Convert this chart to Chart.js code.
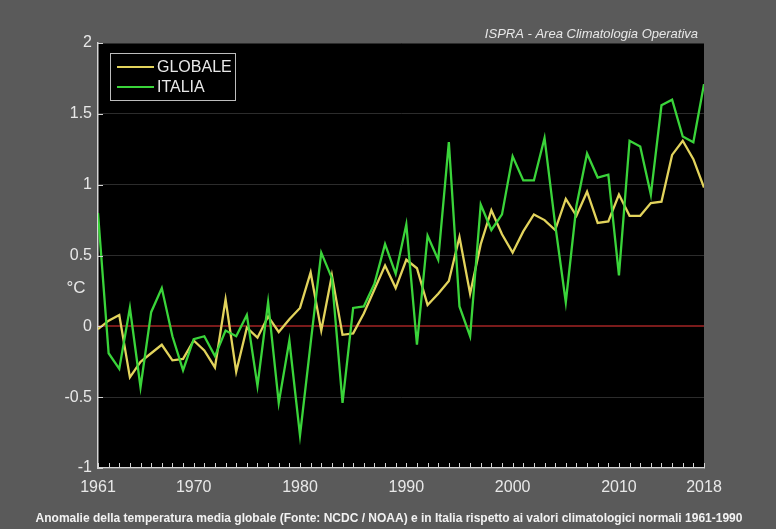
<!DOCTYPE html>
<html>
<head>
<meta charset="utf-8">
<script src="https://cdn.jsdelivr.net/npm/chart.js@4/dist/chart.umd.min.js"></script>
<style>
  html, body { margin: 0; padding: 0; background: #5a5a5a; }
  #wrap { width: 776px; height: 529px; position: relative; }
  canvas { display: block; }
</style>
</head>
<body>
<div id="wrap"><canvas id="chart" width="776" height="529"></canvas></div>
<script>
// Annual temperature anomalies (°C) relative to the 1961-1990 normal
const years = [
  1961, 1962, 1963, 1964, 1965, 1966, 1967, 1968, 1969, 1970,
  1971, 1972, 1973, 1974, 1975, 1976, 1977, 1978, 1979, 1980,
  1981, 1982, 1983, 1984, 1985, 1986, 1987, 1988, 1989, 1990,
  1991, 1992, 1993, 1994, 1995, 1996, 1997, 1998, 1999, 2000,
  2001, 2002, 2003, 2004, 2005, 2006, 2007, 2008, 2009, 2010,
  2011, 2012, 2013, 2014, 2015, 2016, 2017, 2018
];

const globale = [
  -0.02, 0.04, 0.08, -0.36, -0.25, -0.19, -0.13, -0.24, -0.23, -0.10,
  -0.17, -0.29, 0.19, -0.32, -0.01, -0.08, 0.07, -0.04, 0.05, 0.13,
  0.38, -0.03, 0.36, -0.06, -0.05, 0.09, 0.26, 0.43, 0.27, 0.47,
  0.41, 0.15, 0.23, 0.32, 0.63, 0.23, 0.58, 0.82, 0.65, 0.52,
  0.67, 0.79, 0.75, 0.68, 0.90, 0.78, 0.95, 0.73, 0.74, 0.93,
  0.78, 0.78, 0.87, 0.88, 1.21, 1.31, 1.18, 0.98
];

const italia = [
  0.80, -0.19, -0.30, 0.13, -0.43, 0.10, 0.27, -0.07, -0.31, -0.09,
  -0.07, -0.21, -0.03, -0.07, 0.08, -0.42, 0.17, -0.54, -0.10, -0.77,
  -0.12, 0.52, 0.34, -0.54, 0.13, 0.14, 0.30, 0.58, 0.37, 0.72,
  -0.13, 0.64, 0.47, 1.30, 0.14, -0.07, 0.86, 0.68, 0.79, 1.20,
  1.03, 1.03, 1.33, 0.72, 0.17, 0.85, 1.22, 1.05, 1.07, 0.36,
  1.31, 1.27, 0.93, 1.56, 1.60, 1.34, 1.30, 1.71
];

const seriesNames = ['GLOBALE', 'ITALIA'];
const xTickLabels = [1961, 1970, 1980, 1990, 2000, 2010, 2018];
const yTickValues = [-1, -0.5, 0, 0.5, 1, 1.5, 2];
const unitLabel = '°C';
const titleText = 'ISPRA - Area Climatologia Operativa';
const captionText = 'Anomalie della temperatura media globale (Fonte: NCDC / NOAA) e in Italia rispetto ai valori climatologici normali 1961-1990';

const FONT = '"Liberation Sans", Arial, Helvetica, sans-serif';
const TEXT = '#e8e8e8';
const AXIS = '#d4d4d4';

const toPoints = vals => years.map((yr, i) => ({ x: yr, y: vals[i] }));

// Grey page, black plotting area
const backdrop = {
  id: 'backdrop',
  beforeDraw(chart) {
    const { ctx, chartArea: a } = chart;
    ctx.save();
    ctx.fillStyle = '#5a5a5a';
    ctx.fillRect(0, 0, chart.width, chart.height);
    ctx.fillStyle = '#000000';
    ctx.fillRect(a.left, a.top, a.right - a.left, a.bottom - a.top);
    ctx.restore();
  }
};

// Inward tick marks, legend box, unit label, credit line and caption
const decorations = {
  id: 'decorations',
  afterDraw(chart) {
    const { ctx, chartArea: a, scales } = chart;
    const xs = scales.x, ys = scales.y;
    ctx.save();

    ctx.strokeStyle = AXIS;
    ctx.lineWidth = 1;
    years.forEach(yr => {
      const px = Math.round(xs.getPixelForValue(yr)) + 0.5;
      ctx.beginPath();
      ctx.moveTo(px, a.bottom);
      ctx.lineTo(px, a.bottom - 5);
      ctx.stroke();
    });
    yTickValues.forEach(v => {
      const py = Math.round(ys.getPixelForValue(v)) + 0.5;
      ctx.beginPath();
      ctx.moveTo(a.left, py);
      ctx.lineTo(a.left + 5, py);
      ctx.stroke();
    });

    // legend
    const bx = a.left + 12, by = a.top + 10, bw = 125, bh = 47;
    ctx.fillStyle = '#000000';
    ctx.fillRect(bx, by, bw, bh);
    ctx.strokeStyle = '#bdbdbd';
    ctx.lineWidth = 1;
    ctx.strokeRect(bx + 0.5, by + 0.5, bw, bh);
    ctx.font = '16px ' + FONT;
    ctx.textBaseline = 'middle';
    ctx.textAlign = 'left';
    chart.data.datasets.forEach((ds, i) => {
      const ly = by + 14 + i * 20;
      ctx.strokeStyle = ds.borderColor;
      ctx.lineWidth = 2;
      ctx.beginPath();
      ctx.moveTo(bx + 7, ly);
      ctx.lineTo(bx + 44, ly);
      ctx.stroke();
      ctx.fillStyle = TEXT;
      ctx.fillText(ds.label, bx + 47, ly + 1);
    });

    // unit label beside the y axis
    ctx.font = '17px ' + FONT;
    ctx.fillStyle = TEXT;
    ctx.textAlign = 'center';
    ctx.fillText(unitLabel, a.left - 22, ys.getPixelForValue(0.27));

    // credit line above the plot
    ctx.font = 'italic 13px ' + FONT;
    ctx.textAlign = 'right';
    ctx.fillText(titleText, a.right - 6, a.top - 9);

    // caption
    ctx.font = 'bold 12px ' + FONT;
    ctx.textAlign = 'center';
    ctx.fillStyle = '#f2f2f2';
    ctx.fillText(captionText, 389, 519);

    ctx.restore();
  }
};

new Chart(document.getElementById('chart'), {
  type: 'line',
  data: {
    datasets: [
      { label: seriesNames[0], data: toPoints(globale), borderColor: '#e2d35c',
        borderWidth: 2.3, pointRadius: 0, tension: 0, order: 1 },
      { label: seriesNames[1], data: toPoints(italia), borderColor: '#3ad43a',
        borderWidth: 2.3, pointRadius: 0, tension: 0, order: 0 }
    ]
  },
  options: {
    responsive: false,
    animation: false,
    devicePixelRatio: 1,
    layout: { padding: { left: 0, right: 72, top: 43, bottom: 0 } },
    plugins: { legend: { display: false }, tooltip: { enabled: false } },
    scales: {
      x: {
        type: 'linear', min: 1961, max: 2018,
        afterBuildTicks: s => { s.ticks = xTickLabels.map(v => ({ value: v })); },
        afterFit: s => { s.height = 61; },
        grid: { color: 'rgba(0,0,0,0)', drawTicks: false },
        border: { display: true, color: AXIS, width: 1.5 },
        ticks: { color: TEXT, font: { family: FONT, size: 16 }, padding: 10,
                 maxRotation: 0, autoSkip: false, callback: v => String(v) }
      },
      y: {
        min: -1, max: 2,
        afterBuildTicks: s => { s.ticks = yTickValues.map(v => ({ value: v })); },
        afterFit: s => { s.width = 98; },
        grid: {
          drawTicks: false,
          color: c => (c.tick && c.tick.value === 0) ? '#7a1b1b' : '#2c2c2c',
          lineWidth: c => (c.tick && c.tick.value === 0) ? 2 : 1
        },
        border: { display: true, color: AXIS, width: 1.5 },
        ticks: { color: TEXT, font: { family: FONT, size: 16 }, padding: 6,
                 callback: v => String(v) }
      }
    }
  },
  plugins: [backdrop, decorations]
});
</script>
</body>
</html>
